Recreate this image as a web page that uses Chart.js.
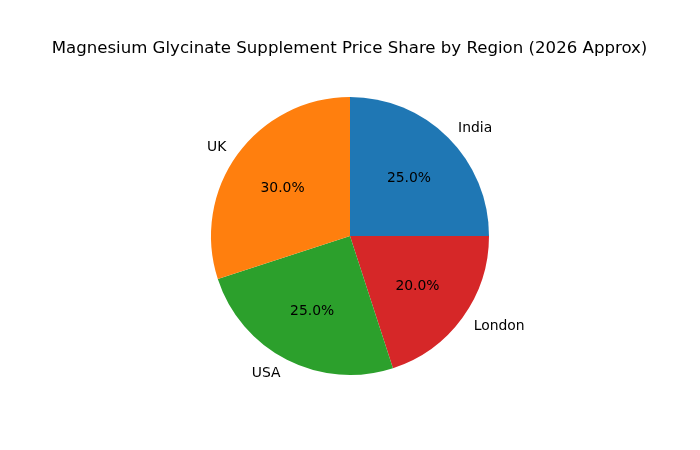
<!DOCTYPE html>
<html>
<head>
<meta charset="utf-8">
<script src="https://cdn.jsdelivr.net/npm/chart.js@4"></script>
<style>
  html, body { margin: 0; padding: 0; background: #fff; }
  #wrap { width: 700px; height: 450px; }
</style>
</head>
<body>
<div id="wrap"><canvas id="myChart" width="700" height="450"></canvas></div>
<script>
// chart data
const regions = ['India', 'UK', 'USA', 'London'];
const shares = [25, 30, 25, 20];
const sliceColors = ['#1f77b4', '#ff7f0e', '#2ca02c', '#d62728'];
const chartTitle = 'Magnesium Glycinate Supplement Price Share by Region (2026 Approx)';

(() => {
    'use strict';

    // matplotlib goes counter-clockwise from 3 o'clock, chart.js clockwise from 12,
    // so keep the first slice and reverse the rest
    const order = [0].concat(regions.map((_, i) => i).slice(1).reverse());

    const font = '"DejaVu Sans", sans-serif';

    // draws outside labels, percentages and the title like matplotlib does
    const pieText = {
        id: 'pieText',
        afterDraw(chart) {
            const c = chart.ctx;
            const meta = chart.getDatasetMeta(0);
            c.save();
            c.fillStyle = '#000';
            meta.data.forEach((arc, i) => {
                const p = arc.getProps(['x', 'y', 'startAngle', 'endAngle', 'outerRadius'], true);
                const mid = (p.startAngle + p.endAngle) / 2;
                const cos = Math.cos(mid), sin = Math.sin(mid);
                const idx = order[i];

                c.font = '13.9px ' + font;
                c.textBaseline = 'middle';
                c.textAlign = cos >= 0 ? 'left' : 'right';
                c.fillText(regions[idx], p.x + cos * p.outerRadius * 1.1, p.y + sin * p.outerRadius * 1.1 + 1);

                const total = shares.reduce((a, b) => a + b, 0);
                c.textAlign = 'center';
                c.fillText((shares[idx] / total * 100).toFixed(1) + '%',
                    p.x + cos * p.outerRadius * 0.6, p.y + sin * p.outerRadius * 0.6 + 1);
            });
            c.font = '16.6px ' + font;
            c.textAlign = 'center';
            c.textBaseline = 'middle';
            c.fillText(chartTitle, 349.5, 48.5);
            c.restore();
        }
    };

    const ctx = document.getElementById('myChart');
    new Chart(ctx, {
        type: 'pie',
        data: {
            labels: order.map(i => regions[i]),
            datasets: [{
                data: order.map(i => shares[i]),
                backgroundColor: order.map(i => sliceColors[i]),
                borderWidth: 0
            }]
        },
        options: {
            responsive: false,
            animation: false,
            devicePixelRatio: 1,
            layout: {
                padding: { left: 211, right: 211, top: 97, bottom: 75 }
            },
            plugins: {
                legend: { display: false },
                title: { display: false },
                tooltip: { enabled: false }
            }
        },
        plugins: [pieText]
    });
})();
</script>
</body>
</html>
